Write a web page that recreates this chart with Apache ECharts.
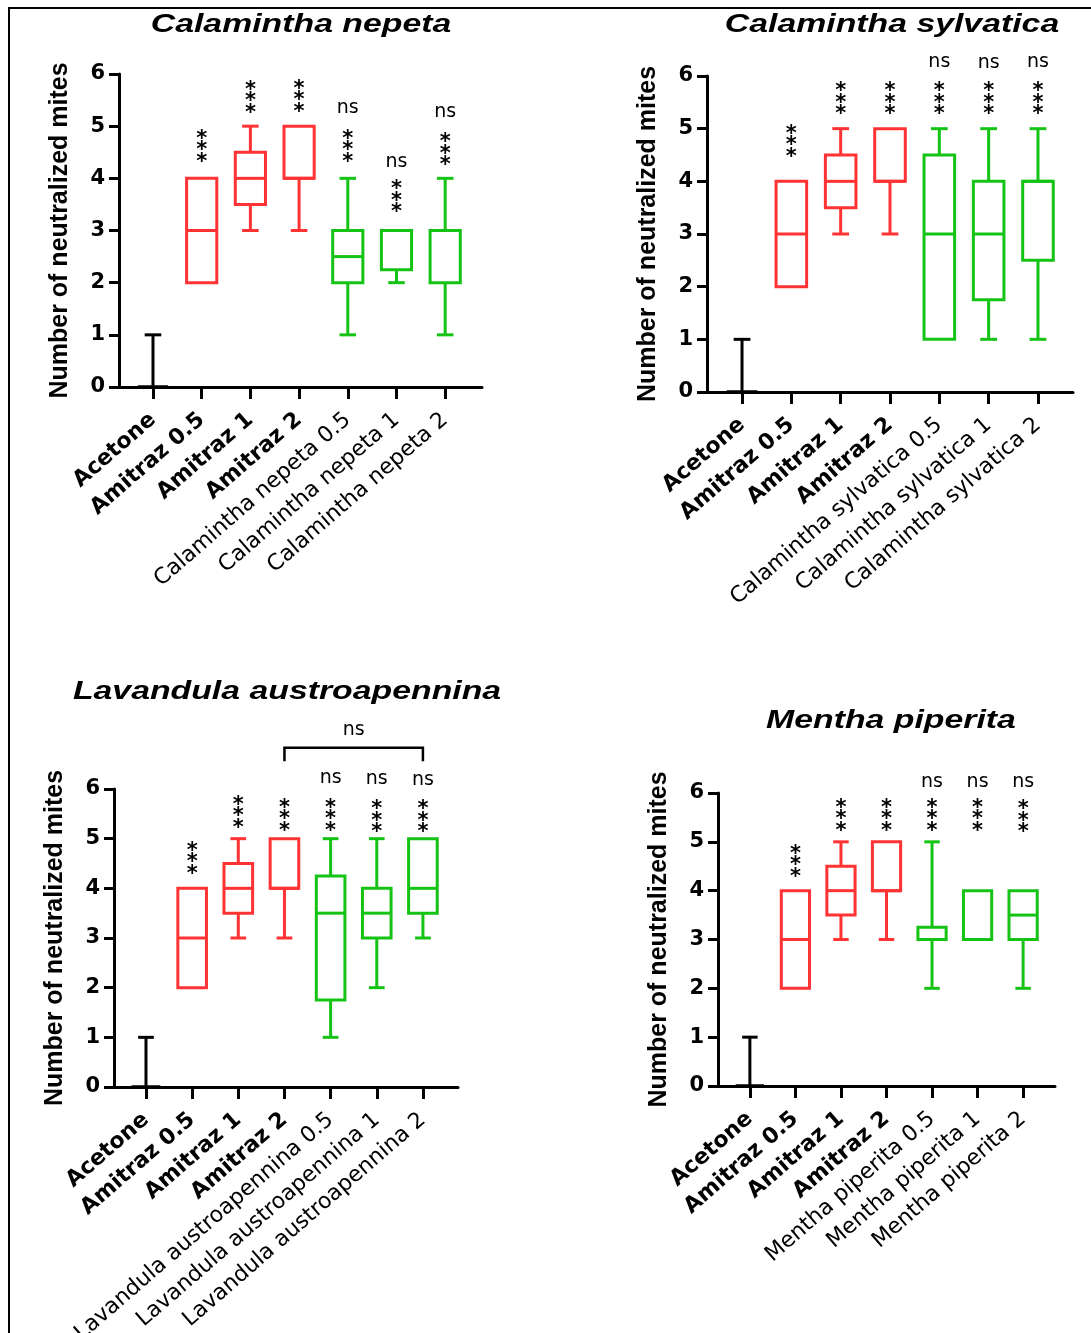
<!DOCTYPE html>
<html><head><meta charset="utf-8">
<script src="https://cdn.jsdelivr.net/npm/echarts@6/dist/echarts.min.js"></script>
<style>html,body{margin:0;padding:0;background:#fff}#c{width:1091px;height:1333px}</style>
</head><body><div id="c"></div>
<script>
// ---------- data ----------
const yTicks = [0, 1, 2, 3, 4, 5, 6];
const catPositions = [0, 1, 2, 3, 4, 5, 6];
const baseCats = ['Acetone', 'Amitraz 0.5', 'Amitraz 1', 'Amitraz 2'];

const titleCN = 'Calamintha nepeta';
const catsCN = baseCats.concat(['Calamintha nepeta 0.5', 'Calamintha nepeta 1', 'Calamintha nepeta 2']);
// [min, q1, median, q3, max]
const boxCN = [[0,0,0,0,1],[2,2,3,4,4],[3,3.5,4,4.5,5],[3,4,4,5,5],[1,2,2.5,3,4],[2,2.25,3,3,3],[1,2,3,3,4]];
const starsCN = [null,4.60,5.54,5.56,4.60,3.64,4.54];
const nsCN = [null,null,null,null,5.35,4.31,5.27];

const titleCS = 'Calamintha sylvatica';
const catsCS = baseCats.concat(['Calamintha sylvatica 0.5', 'Calamintha sylvatica 1', 'Calamintha sylvatica 2']);
const boxCS = [[0,0,0,0,1],[2,2,3,4,4],[3,3.5,4,4.5,5],[3,4,4,5,5],[1,1,3,4.5,5],[1,1.75,3,4,5],[1,2.5,4,4,5]];
const starsCS = [null,4.75,5.56,5.56,5.56,5.56,5.56];
const nsCS = [null,null,null,null,6.27,6.25,6.27];

const titleLA = 'Lavandula austroapennina';
const catsLA = baseCats.concat(['Lavandula austroapennina 0.5', 'Lavandula austroapennina 1', 'Lavandula austroapennina 2']);
const boxLA = [[0,0,0,0,1],[2,2,3,4,4],[3,3.5,4,4.5,5],[3,4,4,5,5],[1,1.75,3.5,4.25,5],[2,3,3.5,4,5],[3,3.5,4,5,5]];
const starsLA = [null,4.59,5.52,5.46,5.46,5.43,5.43];
const nsLA = [null,null,null,null,6.22,6.20,6.18];
const bracketLAx = [3, 6];
const bracketLAy = [6.56, 6.83];
const bracketLAlabelY = 7.19;

const titleMP = 'Mentha piperita';
const catsMP = baseCats.concat(['Mentha piperita 0.5', 'Mentha piperita 1', 'Mentha piperita 2']);
const boxMP = [[0,0,0,0,1],[2,2,3,4,4],[3,3.5,4,4.5,5],[3,4,4,5,5],[2,3,3,3.25,5],[3,3,3,4,4],[2,3,3.5,4,4]];
const starsMP = [null,4.59,5.53,5.53,5.53,5.53,5.50];
const nsMP = [null,null,null,null,6.23,6.23,6.23];

// ---------- styles / layout ----------
const groupColors = ['#000000','#ff3333','#ff3333','#ff3333','#14c314','#14c314','#14c314'];
const panels = [
  {title: titleCN, cats: catsCN, box: boxCN, stars: starsCN, ns: nsCN, grid:{left:119, top:74, width:363, height:313}, xmin:-0.698, xmax:6.756, tx:301, ty:25},
  {title: titleCS, cats: catsCS, box: boxCS, stars: starsCS, ns: nsCS, grid:{left:707, top:76, width:366, height:316}, xmin:-0.71, xmax:6.71, tx:892, ty:25},
  {title: titleLA, cats: catsLA, box: boxLA, stars: starsLA, ns: nsLA, grid:{left:114, top:789, width:344, height:298}, xmin:-0.693, xmax:6.76, tx:287, ty:692,
   bracket:{x:bracketLAx, y:bracketLAy, labelY:bracketLAlabelY}},
  {title: titleMP, cats: catsMP, box: boxMP, stars: starsMP, ns: nsMP, grid:{left:718, top:793, width:337, height:293}, xmin:-0.70, xmax:6.70, tx:891, ty:721}
];

const grids = [], xAxes = [], yAxes = [], series = [], graphics = [];

function boxRender(params, api) {
  const x = api.value(0);
  const mn = api.value(1), q1 = api.value(2), md = api.value(3), q3 = api.value(4), mx = api.value(5);
  const c = groupColors[x];
  const bw = api.size([0.62, 0])[0];
  const cw = api.size([0.34, 0])[0];
  const px = api.coord([x, md])[0];
  const Y = v => api.coord([x, v])[1];
  const st = {stroke: c, lineWidth: 3, fill: null};
  const ch = [];
  const line = (x1,y1,x2,y2) => ch.push({type:'line', shape:{x1,y1,x2,y2}, style: st});
  if (q3 > q1) {
    ch.push({type:'rect', shape:{x:px-bw/2, y:Y(q3), width:bw, height:Y(q1)-Y(q3)}, style: st});
  } else {
    line(px-bw/2, Y(q1), px+bw/2, Y(q1));
  }
  line(px-bw/2, Y(md), px+bw/2, Y(md));
  if (mx > q3) { line(px, Y(q3), px, Y(mx)); line(px-cw/2, Y(mx), px+cw/2, Y(mx)); }
  if (mn < q1) { line(px, Y(q1), px, Y(mn)); line(px-cw/2, Y(mn), px+cw/2, Y(mn)); }
  return {type:'group', children: ch};
}

function textRender(params, api) {
  const kind = api.value(2);
  const p = api.coord([api.value(0), api.value(1)]);
  if (kind === 0) {
    return {type:'text', x:p[0], y:p[1] + 4, style:{text:'*\n*\n*', fontFamily:'DejaVu Sans', fontWeight:'bold', fontSize:21, lineHeight:11.5, align:'center', verticalAlign:'middle', fill:'#000'}};
  }
  return {type:'text', x:p[0], y:p[1], style:{text:'ns', fontFamily:'DejaVu Sans', fontSize:19, align:'center', verticalAlign:'middle', fill:'#000'}};
}

panels.forEach((p, i) => {
  grids.push(Object.assign({containLabel:false, outerBoundsMode:'none'}, p.grid));
  xAxes.push({
    type:'value', gridIndex:i, min:p.xmin, max:p.xmax,
    splitLine:{show:false},
    axisLine:{show:true, onZero:false, lineStyle:{color:'#000', width:3}},
    axisTick:{show:true, customValues:catPositions, length:12, lineStyle:{color:'#000', width:3}},
    axisLabel:{show:true, customValues:catPositions, rotate:41, margin:30, interval:0, hideOverlap:false,
      formatter: v => (v < 4 ? '{b|' + p.cats[v] + '}' : '{n|' + p.cats[v] + '}'),
      rich:{
        b:{fontFamily:'DejaVu Sans', fontWeight:'bold', fontSize:22, color:'#000'},
        n:{fontFamily:'DejaVu Sans', fontWeight:'normal', fontSize:22, color:'#000'}
      }}
  });
  yAxes.push({
    type:'value', gridIndex:i, min:0, max:6, interval:1,
    splitLine:{show:false},
    axisLine:{show:true, onZero:false, lineStyle:{color:'#000', width:3}},
    axisTick:{show:true, length:10, lineStyle:{color:'#000', width:3}},
    axisLabel:{fontFamily:'DejaVu Sans', fontWeight:'bold', fontSize:21, color:'#000', margin:14},
    name:'Number of neutralized mites', nameLocation:'middle', nameGap:46,
    nameTextStyle:{fontFamily:'Liberation Sans', fontWeight:'bold', fontSize:25, color:'#000'}
  });
  series.push({
    type:'custom', xAxisIndex:i, yAxisIndex:i, renderItem: boxRender, clip:false,
    encode:{x:0, y:[1,2,3,4,5]},
    data: p.box.map((b, k) => [catPositions[k]].concat(b))
  });
  const td = [];
  p.stars.forEach((v, k) => { if (v != null) td.push([catPositions[k], v, 0]); });
  p.ns.forEach((v, k) => { if (v != null) td.push([catPositions[k], v, 1]); });
  series.push({type:'custom', xAxisIndex:i, yAxisIndex:i, renderItem: textRender, clip:false, encode:{x:0, y:1}, data: td});
  if (p.bracket) {
    const b = p.bracket;
    series.push({
      type:'custom', xAxisIndex:i, yAxisIndex:i, clip:false, encode:{x:0, y:1},
      data:[[b.x[0], b.y[1]]],
      renderItem: (params, api) => {
        const a = api.coord([b.x[0], b.y[0]]), a2 = api.coord([b.x[0], b.y[1]]);
        const c2 = api.coord([b.x[1], b.y[1]]), c1 = api.coord([b.x[1], b.y[0]]);
        const lp = api.coord([(b.x[0] + b.x[1]) / 2, b.labelY]);
        return {type:'group', children:[
          {type:'polyline', shape:{points:[a, a2, c2, c1]}, style:{stroke:'#000', lineWidth:2.5, fill:null}},
          {type:'text', x:lp[0], y:lp[1], style:{text:'ns', fontFamily:'DejaVu Sans', fontSize:19, align:'center', verticalAlign:'middle', fill:'#000'}}
        ]};
      }
    });
  }
  graphics.push({type:'text', x:p.tx, y:p.ty, scaleX:1.3, scaleY:1,
    style:{text:p.title, fontFamily:'Liberation Sans', fontWeight:'bold', fontStyle:'italic', fontSize:26, align:'center', verticalAlign:'middle', fill:'#000'}});
});

graphics.push({type:'polyline', shape:{points:[[9, 1333], [9, 8], [1091, 8]]}, style:{stroke:'#000', lineWidth:2, fill:null}});

const chart = echarts.init(document.getElementById('c'), null, {renderer:'canvas'});
chart.setOption({
  animation:false,
  backgroundColor:'#fff',
  grid: grids, xAxis: xAxes, yAxis: yAxes, series: series, graphic: graphics
});
</script>
</body></html>
